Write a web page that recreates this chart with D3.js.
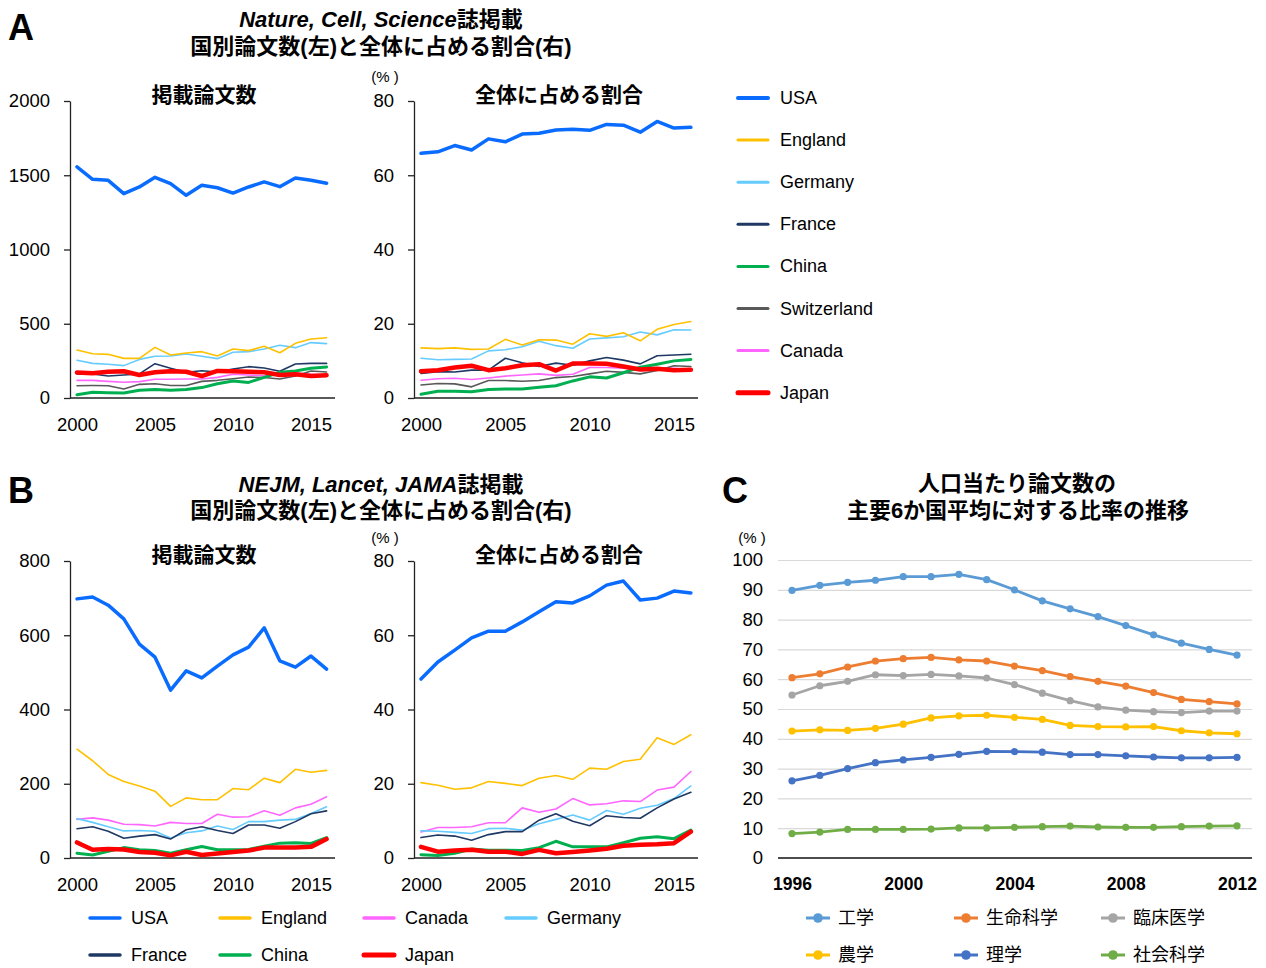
<!DOCTYPE html>
<html><head><meta charset="utf-8">
<script src="https://cdn.jsdelivr.net/npm/d3@7"></script>
<style>
html,body{margin:0;padding:0;background:#fff;}
svg{display:block;}
text{font-family:"Liberation Sans","Noto Sans CJK JP",sans-serif;fill:#000;}
</style></head>
<body>
<script>
// ---------- data ----------
const yearsAB = [2000,2001,2002,2003,2004,2005,2006,2007,2008,2009,2010,2011,2012,2013,2014,2015,2016];
const xTicksAB = [2000,2005,2010,2015];

// Panel A: Nature, Cell, Science — paper counts
const usaA     = [1557,1473,1466,1376,1421,1486,1443,1365,1432,1416,1380,1421,1455,1423,1481,1466,1446];
const englandA = [323,298,294,267,267,341,290,303,312,283,330,319,348,305,368,397,406];
const germanyA = [254,233,227,218,260,281,283,296,281,265,308,312,330,355,339,373,366];
const franceA  = [162,162,148,155,162,231,200,173,184,175,195,211,202,180,229,233,233];
const chinaA   = [22,38,36,34,52,58,52,58,70,96,114,105,139,173,182,200,209];
const switzA   = [83,84,83,61,92,96,84,84,112,119,130,141,138,128,148,182,175];
const canadaA  = [119,119,112,106,110,126,126,128,128,139,160,155,150,160,168,160,155];
const japanA   = [171,166,177,180,155,173,180,177,148,182,180,177,173,155,160,148,153];
// Panel A: share (%)
const usaAS     = [65.9,66.3,68.0,66.8,69.8,69.0,71.1,71.3,72.2,72.4,72.1,73.7,73.5,71.6,74.5,72.7,72.9];
const englandAS = [13.5,13.3,13.5,13.1,13.2,15.8,14.3,15.7,15.6,14.5,17.3,16.6,17.6,15.4,18.5,19.8,20.6];
const germanyAS = [10.7,10.3,10.4,10.5,12.7,13.0,13.8,15.3,14.1,13.4,15.9,16.2,16.5,17.8,17.0,18.4,18.3];
const franceAS  = [6.6,7.1,7.0,7.5,7.5,10.7,9.5,8.5,9.4,8.8,10.0,10.9,10.2,9.2,11.4,11.6,11.8];
const chinaAS   = [1.0,1.8,1.8,1.7,2.3,2.4,2.4,2.9,3.3,4.6,5.7,5.4,6.8,8.3,9.1,10.0,10.4];
const switzAS   = [3.5,3.9,3.8,3.0,4.7,4.7,4.5,4.7,5.5,5.8,6.5,7.2,6.9,6.5,7.4,8.7,8.5];
const canadaAS  = [4.8,5.2,5.3,5.0,5.4,5.9,6.2,6.5,6.1,6.4,8.2,8.2,8.0,7.6,7.9,8.0,7.6];
const japanAS   = [7.2,7.5,8.2,8.7,7.5,8.0,8.8,9.1,7.4,9.3,9.3,9.2,8.5,7.7,7.9,7.5,7.6];

// Panel B: NEJM, Lancet, JAMA — paper counts
const usaB     = [698,703,681,644,576,541,452,504,485,517,547,568,620,531,514,544,509];
const englandB = [293,262,225,206,194,180,139,162,157,157,187,184,215,203,239,231,236];
const canadaB  = [104,108,102,91,90,86,96,93,93,118,110,111,127,115,135,145,165];
const germanyB = [106,96,84,73,74,72,54,68,73,86,77,98,98,102,104,120,138];
const franceB  = [79,84,72,53,59,63,51,76,84,74,66,89,89,80,98,119,127];
const chinaB   = [13,8,18,28,22,20,13,22,31,22,22,23,32,40,41,39,55];
const japanB   = [42,22,24,23,16,14,7,17,8,12,16,20,28,28,28,30,51];
// Panel B: share (%)
const usaBS     = [48.2,52.8,56.0,59.3,61.1,61.1,63.6,66.3,69.0,68.7,70.6,73.5,74.6,69.5,70.0,71.9,71.4];
const englandBS = [20.3,19.6,18.5,18.9,20.6,20.1,19.5,21.5,22.2,21.2,24.2,23.9,26.0,26.6,32.4,30.6,33.2];
const canadaBS  = [7.0,8.2,8.2,8.4,9.5,9.5,13.5,12.3,13.2,16.0,14.3,14.6,15.4,15.2,18.3,19.1,23.3];
const germanyBS = [7.3,7.2,6.9,6.6,7.9,8.0,7.5,9.2,10.4,11.6,10.2,12.8,11.8,13.4,14.2,16.0,19.4];
const franceBS  = [5.5,6.2,5.9,4.8,6.3,7.1,7.1,10.2,11.9,9.9,8.7,11.4,10.9,10.7,13.5,15.9,17.7];
const chinaBS   = [0.9,0.7,1.3,2.4,2.1,2.1,2.0,2.8,4.5,3.0,3.0,3.0,4.1,5.3,5.7,5.2,7.5];
const japanBS   = [3.0,1.7,2.0,2.2,1.7,1.7,1.1,2.2,1.3,1.6,2.0,2.5,3.3,3.6,3.7,4.0,7.1];

// Panel C
const yearsC = [1996,1997,1998,1999,2000,2001,2002,2003,2004,2005,2006,2007,2008,2009,2010,2011,2012];
const xTicksC = [1996,2000,2004,2008,2012];
const yTicksC = [0,10,20,30,40,50,60,70,80,90,100];
const kogaku  = [89.8,91.5,92.5,93.2,94.4,94.4,95.2,93.4,90.0,86.3,83.6,81.0,78.0,74.9,72.1,70.0,68.1];
const seimei  = [60.5,61.8,64.1,66.1,66.9,67.3,66.5,66.1,64.4,62.9,60.9,59.3,57.7,55.5,53.2,52.5,51.7];
const rinsho  = [54.7,57.8,59.3,61.5,61.2,61.6,61.1,60.4,58.2,55.3,52.8,50.7,49.6,49.1,48.8,49.3,49.3];
const nogaku  = [42.6,43.0,42.8,43.5,44.9,47.0,47.7,47.9,47.2,46.5,44.5,44.1,44.0,44.1,42.7,42.0,41.7];
const rigaku  = [25.9,27.7,30.0,32.0,32.9,33.8,34.8,35.8,35.7,35.5,34.7,34.7,34.3,33.9,33.6,33.6,33.8];
const shakai  = [8.2,8.7,9.6,9.6,9.6,9.7,10.1,10.1,10.3,10.5,10.7,10.4,10.3,10.3,10.5,10.7,10.8];

// ---------- styles ----------
const CSTYLE = {
  USA:{c:"#0a6cff",w:3.5}, England:{c:"#ffc000",w:1.6}, Germany:{c:"#66ccff",w:1.6},
  France:{c:"#1f3864",w:1.6}, China:{c:"#00b050",w:3}, Switzerland:{c:"#595959",w:1.6},
  Canada:{c:"#ff66ff",w:1.6}, Japan:{c:"#ff0000",w:4.5}
};
const FSTYLE = {"工学":"#5b9bd5","生命科学":"#ed7d31","臨床医学":"#a5a5a5","農学":"#ffc000","理学":"#4472c4","社会科学":"#70ad47"};
const TICK_FS = "18.5px";

const svg = d3.select("body").append("svg").attr("width",1266).attr("height",968);

function txt(x,y,s,opt={}){
  const t = svg.append("text").attr("x",x).attr("y",y).attr("dominant-baseline","central")
    .attr("text-anchor",opt.anchor||"middle").style("font-size",(opt.size||18)+"px")
    .style("font-weight",opt.weight||"normal");
  if(opt.italic) t.style("font-style","italic");
  t.text(s);
  return t;
}

function smallPanel(cfg){
  const x = d3.scaleLinear().domain([2000,2015]).range([cfg.x0,cfg.x15]);
  const y = d3.scaleLinear().domain([0,cfg.ymax]).range([cfg.yb,cfg.yt]);
  const g = svg.append("g");
  const ya = g.append("g").attr("transform",`translate(${cfg.ax},0)`)
    .call(d3.axisLeft(y).tickValues(cfg.yticks).tickFormat(d3.format("d")).tickSize(6).tickPadding(14).tickSizeOuter(0));
  ya.select(".domain").attr("stroke","#222").attr("stroke-width",1.3);
  ya.selectAll(".tick line").attr("stroke","#222").attr("stroke-width",1.3);
  ya.selectAll("text").style("font-size",TICK_FS).style("font-family","Liberation Sans").attr("fill","#000");
  const xa = g.append("g").attr("transform",`translate(0,${cfg.yb})`)
    .call(d3.axisBottom(x).tickValues(xTicksAB).tickFormat(d3.format("d")).tickSize(0).tickPadding(20));
  xa.select(".domain").remove();
  xa.selectAll("text").style("font-size",TICK_FS).style("font-family","Liberation Sans").attr("fill","#000");
  g.append("line").attr("x1",cfg.ax).attr("x2",cfg.axEnd).attr("y1",cfg.yb).attr("y2",cfg.yb)
    .attr("stroke","#222").attr("stroke-width",1.3);
  const line = d3.line().x((d,i)=>x(yearsAB[i])).y(d=>y(d));
  cfg.series.forEach(([name,vals])=>{
    g.append("path").datum(vals).attr("d",line).attr("fill","none")
      .attr("stroke",CSTYLE[name].c).attr("stroke-width",CSTYLE[name].w)
      .attr("stroke-linejoin","round").attr("stroke-linecap","round");
  });
}

function twoLineTitle(cx,y1,y2,italicPart,rest,line2){
  const t = svg.append("text").attr("x",cx).attr("y",y1).attr("text-anchor","middle")
    .attr("dominant-baseline","central").style("font-size","22px").style("font-weight","bold");
  t.append("tspan").style("font-style","italic").text(italicPart);
  t.append("tspan").text(rest);
  txt(cx,y2,line2,{size:22,weight:"bold"});
}

// ---------- Panel A ----------
txt(8,27,"A",{anchor:"start",size:36,weight:"bold"});
twoLineTitle(381,19,46,"Nature, Cell, Science","誌掲載","国別論文数(左)と全体に占める割合(右)");
txt(204,94,"掲載論文数",{size:21,weight:"bold"});
txt(559,94,"全体に占める割合",{size:21,weight:"bold"});
txt(385,76,"(% )",{size:15});

smallPanel({x0:77,x15:311,ax:70,axEnd:335,yb:398,yt:101,ymax:2000,yticks:[0,500,1000,1500,2000],
  series:[["Canada",canadaA],["Switzerland",switzA],["Germany",germanyA],["England",englandA],["France",franceA],["China",chinaA],["Japan",japanA],["USA",usaA]]});
smallPanel({x0:421,x15:674,ax:414,axEnd:698,yb:398,yt:101,ymax:80,yticks:[0,20,40,60,80],
  series:[["Canada",canadaAS],["Switzerland",switzAS],["Germany",germanyAS],["England",englandAS],["France",franceAS],["China",chinaAS],["Japan",japanAS],["USA",usaAS]]});

const legA = ["USA","England","Germany","France","China","Switzerland","Canada","Japan"];
legA.forEach((n,i)=>{
  const yy = 98 + i*42.1;
  svg.append("line").attr("x1",738).attr("x2",768).attr("y1",yy).attr("y2",yy)
    .attr("stroke",CSTYLE[n].c).attr("stroke-width",n==="Japan"?5:(n==="USA"?4:3)).attr("stroke-linecap","round");
  txt(780,yy,n,{anchor:"start",size:18});
});

// ---------- Panel B ----------
txt(8,490,"B",{anchor:"start",size:36,weight:"bold"});
twoLineTitle(381,484,510,"NEJM, Lancet, JAMA","誌掲載","国別論文数(左)と全体に占める割合(右)");
txt(204,554,"掲載論文数",{size:21,weight:"bold"});
txt(559,554,"全体に占める割合",{size:21,weight:"bold"});
txt(385,537,"(% )",{size:15});

smallPanel({x0:77,x15:311,ax:70,axEnd:335,yb:858,yt:561,ymax:800,yticks:[0,200,400,600,800],
  series:[["Canada",canadaB],["Germany",germanyB],["France",franceB],["England",englandB],["China",chinaB],["Japan",japanB],["USA",usaB]]});
smallPanel({x0:421,x15:674,ax:414,axEnd:698,yb:858,yt:561,ymax:80,yticks:[0,20,40,60,80],
  series:[["Canada",canadaBS],["Germany",germanyBS],["France",franceBS],["England",englandBS],["China",chinaBS],["Japan",japanBS],["USA",usaBS]]});

const legB = [["USA",90,918],["England",220,918],["Canada",364,918],["Germany",506,918],
              ["France",90,955],["China",220,955],["Japan",364,955]];
legB.forEach(([n,lx,yy])=>{
  svg.append("line").attr("x1",lx).attr("x2",lx+30).attr("y1",yy).attr("y2",yy)
    .attr("stroke",CSTYLE[n].c).attr("stroke-width",n==="Japan"?5:3.5).attr("stroke-linecap","round");
  txt(lx+41,yy,n,{anchor:"start",size:18});
});

// ---------- Panel C ----------
txt(722,490,"C",{anchor:"start",size:36,weight:"bold"});
txt(1017,483,"人口当たり論文数の",{size:22,weight:"bold"});
txt(1018,510,"主要6か国平均に対する比率の推移",{size:22,weight:"bold"});
txt(752,537,"(% )",{size:15});
{
  const x = d3.scaleLinear().domain([1996,2012]).range([792,1237]);
  const y = d3.scaleLinear().domain([0,100]).range([858,560]);
  const g = svg.append("g");
  g.append("g").attr("transform","translate(778,0)")
    .call(d3.axisLeft(y).tickValues(yTicksC).tickSize(-474).tickPadding(15))
    .call(a=>{
      a.select(".domain").remove();
      a.selectAll(".tick line").attr("stroke",d=>d===0?"none":"#d9d9d9").attr("stroke-width",1.2);
      a.selectAll("text").style("font-size",TICK_FS).style("font-family","Liberation Sans").attr("fill","#000");
    });
  g.append("line").attr("x1",778).attr("x2",1252).attr("y1",858).attr("y2",858).attr("stroke","#111").attr("stroke-width",1.3);
  g.append("g").attr("transform","translate(0,858)")
    .call(d3.axisBottom(x).tickValues(xTicksC).tickFormat(d3.format("d")).tickSize(0).tickPadding(20))
    .call(a=>{
      a.select(".domain").remove();
      a.selectAll("text").style("font-size","17.5px").style("font-weight","bold").style("font-family","Liberation Sans").attr("fill","#000");
    });
  const series = [["工学",kogaku],["生命科学",seimei],["臨床医学",rinsho],["農学",nogaku],["理学",rigaku],["社会科学",shakai]];
  const line = d3.line().x((d,i)=>x(yearsC[i])).y(d=>y(d));
  series.forEach(([n,vals])=>{
    g.append("path").datum(vals).attr("d",line).attr("fill","none").attr("stroke",FSTYLE[n])
      .attr("stroke-width",2.8).attr("stroke-linejoin","round");
    g.selectAll(null).data(vals).enter().append("circle")
      .attr("cx",(d,i)=>x(yearsC[i])).attr("cy",d=>y(d)).attr("r",3.6).attr("fill",FSTYLE[n]);
  });
  const legC = [["工学",818,918],["生命科学",966,918],["臨床医学",1113,918],["農学",818,955],["理学",966,955],["社会科学",1113,955]];
  legC.forEach(([n,cx,yy])=>{
    svg.append("line").attr("x1",cx-12).attr("x2",cx+12).attr("y1",yy).attr("y2",yy)
      .attr("stroke",FSTYLE[n]).attr("stroke-width",3);
    svg.append("circle").attr("cx",cx).attr("cy",yy).attr("r",4.8).attr("fill",FSTYLE[n]);
    txt(cx+20,yy,n,{anchor:"start",size:18});
  });
}
</script>
</body></html>
